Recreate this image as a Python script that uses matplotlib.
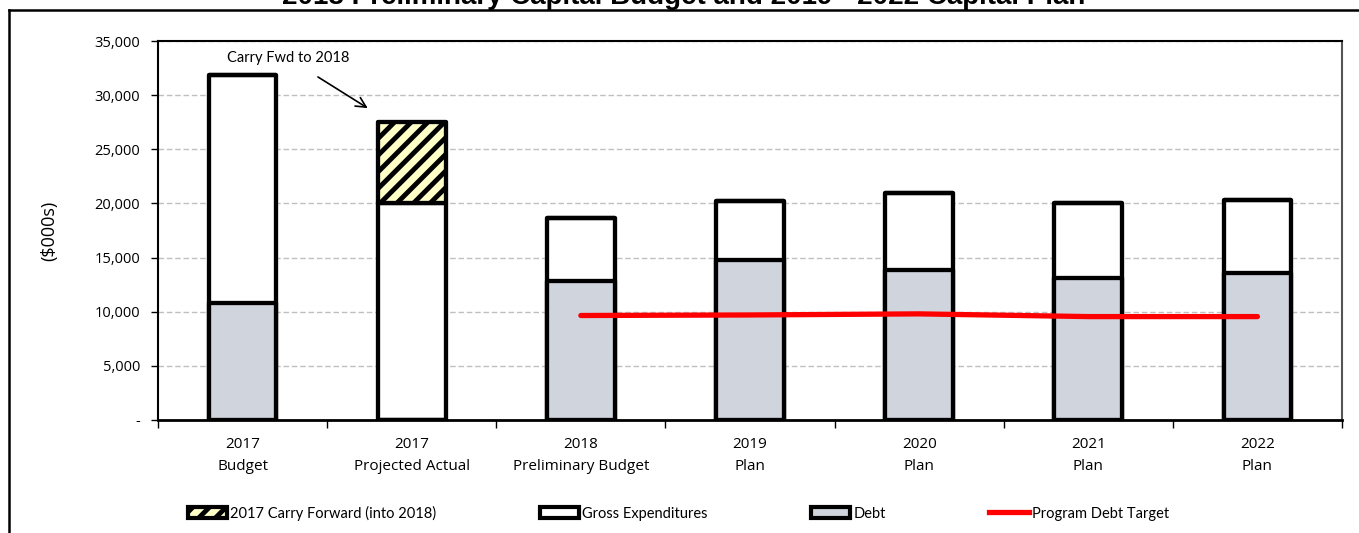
import numpy as np
import matplotlib
matplotlib.use('Agg')
import matplotlib.pyplot as plt
from matplotlib.patches import Patch
from matplotlib.lines import Line2D

categories = ['2017\nBudget', '2017\nProjected Actual', '2018\nPreliminary Budget',
              '2019\nPlan', '2020\nPlan', '2021\nPlan', '2022\nPlan']
gross = [31900, 20000, 18650, 20250, 20950, 20000, 20300]
debt = [10850, 0, 12850, 14800, 13850, 13100, 13600]
carry_fwd = [0, 7500, 0, 0, 0, 0, 0]
debt_target = [np.nan, np.nan, 9650, 9700, 9800, 9550, 9550]
yticks = [0, 5000, 10000, 15000, 20000, 25000, 30000, 35000]
ytick_labels = ['-', '5,000', '10,000', '15,000', '20,000', '25,000', '30,000', '35,000']

plt.rcParams['hatch.linewidth'] = 3.5
narrow = 'Lato'

fig = plt.figure(figsize=(13.59, 5.33), dpi=100)
ax = fig.add_axes([158/1359, 1-420/533, (1342-158)/1359, (420-41)/533])

x = np.arange(len(categories))
w = 0.4
edge = dict(edgecolor='black', linewidth=3.1, joinstyle='round')

ax.bar(x, gross, width=w, color='white', zorder=3, **edge)
ax.bar(x, debt, width=w, color='#D0D4DC', zorder=4, **edge)
ax.bar(x, carry_fwd, width=w, bottom=gross, color='#FFFFC8', hatch='//', zorder=4,
       **edge)
ax.plot(x, debt_target, color='red', linewidth=3.8, solid_capstyle='round', zorder=5)

ax.annotate('Carry Fwd to 2018', xy=(0.74, 28800), xytext=(0.27, 33400),
            ha='center', va='center', fontsize=10.5, family=narrow,
            arrowprops=dict(arrowstyle='->', color='black', lw=1.2,
                            shrinkA=12, shrinkB=0, mutation_scale=18))

ax.set_xlim(-0.5, len(categories)-0.5)
ax.set_ylim(0, 35000)
ax.set_yticks(yticks)
ax.set_yticklabels(ytick_labels, family='Open Sans', fontsize=10.5)
ax.set_xticks(x)
ax.set_xticklabels(categories, family='Open Sans', fontsize=11, linespacing=1.65)
ax.set_xticks(np.arange(-0.5, len(categories)), minor=True)
ax.tick_params(axis='x', which='major', length=0, pad=12)
ax.tick_params(axis='x', which='minor', length=6, width=1, direction='out')
ax.tick_params(axis='y', length=5, width=1, direction='out', pad=8)
ax.set_ylabel('($000s)', family='Open Sans', fontsize=13, labelpad=26)

ax.yaxis.grid(True, linestyle=(0, (4, 2)), color='#C0C0C0', linewidth=1, zorder=0)
ax.set_axisbelow(True)
ax.spines['left'].set_linewidth(1.5)
ax.spines['bottom'].set_linewidth(2)
ax.spines['top'].set_linewidth(1.5)
ax.spines['right'].set_color('#555555')
ax.spines['right'].set_linewidth(1.5)

# outer frame lines and clipped title
fig.add_artist(Line2D([9/1359, 1], [1-10/533, 1-10/533], color='black', lw=1.8))
fig.add_artist(Line2D([9/1359, 9/1359], [0, 1-10/533], color='black', lw=1.8))
fig.text(0.503, 1-4/533, '2018 Preliminary Capital Budget and 2019 - 2022 Capital Plan',
         ha='center', va='baseline', fontsize=20, fontweight='bold',
         family='Liberation Sans')

handles = [Patch(facecolor='#FFFFC8', edgecolor='black', hatch='//', linewidth=3),
           Patch(facecolor='white', edgecolor='black', linewidth=3),
           Patch(facecolor='#D0D4DC', edgecolor='black', linewidth=3),
           Line2D([0], [0], color='red', linewidth=3.8)]
labels = ['2017 Carry Forward (into 2018)', 'Gross Expenditures', 'Debt',
          'Program Debt Target']
fig.legend(handles, labels, loc='center left', bbox_to_anchor=(0.1285, 0.0375), ncol=4,
           frameon=False, prop={'family': narrow, 'size': 10.5}, handlelength=2.7,
           handleheight=0.8, handletextpad=0.2, columnspacing=7.1)

fig.savefig('out.png', dpi=100)
